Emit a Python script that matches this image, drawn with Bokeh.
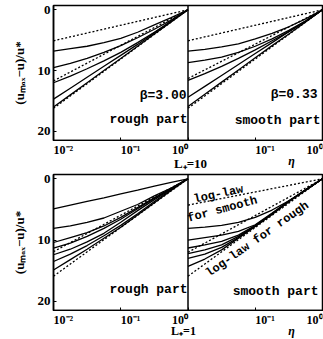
from bokeh.plotting import figure
from bokeh.models import Range1d, LogScale, FixedTicker, Span, Label
from bokeh.layouts import column
from bokeh.embed import file_html
from bokeh.resources import INLINE

# ---------------- data ----------------
# abscissa: distance from the wall (rough part: y/h, smooth part: eta)
x_pts = [0.01, 0.0178, 0.0316, 0.0562, 0.1, 0.178, 0.316, 0.562, 1.0]
x_ends = [0.01, 1.0]

# tick marks on the shared bottom axis (left half: rough part, right half: eta)
x_ticks = [0.01, 0.1, 1, 10, 100]
rough_tick_vals = [0.01, 0.1, 1.0]
rough_tick_text = ["10⁻²", "10⁻¹", "10⁰"]
eta_tick_vals = [0.1, 1.0]
eta_tick_text = ["10⁻¹", "10⁰"]
y_ticks = [0, 10, 20]

# top row, L+ = 10
top_rough = [  # beta = 3.00, rough part
    [6.8, 6.4, 6.0, 5.4, 4.7, 3.7, 2.5, 1.3, 0.0],
    [9.5, 8.8, 8.0, 7.0, 5.9, 4.6, 3.2, 1.7, 0.0],
    [12.0, 10.9, 9.7, 8.4, 7.0, 5.4, 3.7, 1.9, 0.0],
    [14.7, 12.9, 11.1, 9.3, 7.5, 5.7, 3.8, 1.9, 0.0],
    [16.0, 14.0, 12.0, 10.0, 8.0, 6.0, 4.0, 2.0, 0.0],
]
top_rough_loglaw = [[5.1, 0.0], [11.7, 0.0], [16.2, 0.0]]

top_smooth = [  # beta = 0.33, smooth part
    [6.8, 6.5, 6.1, 5.6, 4.8, 3.9, 2.8, 1.5, 0.0],
    [8.7, 8.3, 7.8, 7.0, 6.0, 4.8, 3.4, 1.8, 0.0],
    [11.6, 10.5, 9.3, 8.0, 6.6, 5.1, 3.6, 1.9, 0.0],
    [14.4, 12.6, 10.8, 9.0, 7.2, 5.4, 3.6, 1.9, 0.0],
    [15.9, 13.9, 11.9, 9.9, 7.9, 5.9, 4.0, 2.0, 0.0],
]
top_smooth_loglaw = [[5.1, 0.0], [11.3, 0.0], [16.2, 0.0]]

# bottom row, L+ = 1
bot_rough = [
    [4.9, 4.3, 3.7, 3.1, 2.45, 1.85, 1.2, 0.6, 0.0],
    [8.1, 7.7, 7.1, 6.4, 5.3, 4.2, 2.8, 1.5, 0.0],
    [10.4, 9.6, 8.8, 7.7, 6.3, 4.7, 3.1, 1.6, 0.0],
    [11.3, 10.5, 9.4, 8.1, 6.6, 4.9, 3.2, 1.6, 0.0],
    [12.4, 11.5, 10.3, 8.9, 7.1, 5.2, 3.4, 1.7, 0.0],
    [13.5, 12.3, 10.9, 9.3, 7.6, 5.7, 3.7, 1.8, 0.0],
    [14.9, 13.2, 11.5, 9.7, 7.9, 5.9, 3.9, 1.9, 0.0],
]
bot_rough_loglaw = [[11.9, 0.0], [15.9, 0.0]]

bot_smooth = [
    [8.1, 7.9, 7.6, 7.1, 6.3, 5.1, 3.6, 1.9, 0.0],
    [10.0, 9.6, 9.2, 8.6, 7.5, 5.6, 3.6, 1.8, 0.0],
    [11.3, 10.8, 10.2, 9.2, 7.6, 5.7, 3.7, 1.8, 0.0],
    [12.2, 11.6, 10.8, 9.4, 7.7, 5.8, 3.7, 1.8, 0.0],
    [13.0, 12.3, 11.2, 9.6, 7.7, 5.8, 3.7, 1.8, 0.0],
    [14.3, 13.1, 11.6, 9.7, 7.8, 5.8, 3.7, 1.8, 0.0],
]
bot_smooth_loglaw = [[4.3, 0.0], [12.0, 0.0], [15.9, 0.0]]

# ---------------- styling helpers ----------------
MONO = "Liberation Mono"
SERIF = "Liberation Serif"

X_RANGE = Range1d(0.01, 100)
ETA_RANGE = Range1d(1e-4, 1)


def add_label(p, text, x, y, align="center", baseline="middle", size="13px",
              font=MONO, style="bold", angle=0, x_units="screen", y_units="screen",
              range_name="default"):
    p.add_layout(Label(x=x, y=y, x_units=x_units, y_units=y_units, text=text,
                       x_range_name=range_name,
                       text_align=align, text_baseline=baseline,
                       text_font_size=size, text_font=font, text_font_style=style,
                       text_color="black", angle=angle, angle_units="deg"))


def build_row(height, b_top, b_bottom, rough, rough_ll, smooth, smooth_ll):
    p = figure(width=323, height=height, x_axis_type="log",
               x_range=X_RANGE, y_range=Range1d(21.5, -0.7),
               output_backend="svg", toolbar_location=None,
               min_border_left=53, min_border_right=1,
               min_border_top=b_top, min_border_bottom=b_bottom)
    p.extra_x_ranges = {"eta": ETA_RANGE}
    p.extra_x_scales = {"eta": LogScale()}
    p.background_fill_color = "white"
    p.border_fill_color = "white"
    p.outline_line_color = "black"
    p.outline_line_width = 1.5
    p.xgrid.visible = False
    p.ygrid.visible = False

    for ax in (p.xaxis[0], p.yaxis[0]):
        ax.axis_line_color = "black"
        ax.axis_line_width = 1.5
        ax.major_tick_in = 3
        ax.major_tick_out = 0
        ax.minor_tick_line_color = None
        ax.major_tick_line_color = "black"
        ax.major_label_text_font = SERIF
        ax.major_label_text_font_style = "bold"
        ax.major_label_text_color = "black"

    # bottom axis keeps its tick marks; its labels are written in the strip below
    p.xaxis.ticker = FixedTicker(ticks=x_ticks)
    p.xaxis.major_label_overrides = {t: "" for t in x_ticks}
    p.xaxis.major_label_text_font_size = "0px"
    p.xaxis.major_label_standoff = 0

    p.yaxis.ticker = FixedTicker(ticks=y_ticks)
    p.yaxis.major_label_text_font_size = "13px"
    p.yaxis.major_label_standoff = 3
    p.yaxis.axis_label = "(uₘₐₓ−u)/u*"
    p.yaxis.axis_label_text_font = SERIF
    p.yaxis.axis_label_text_font_style = "bold"
    p.yaxis.axis_label_text_font_size = "13px"
    p.yaxis.axis_label_text_color = "black"
    p.yaxis.axis_label_standoff = 8

    # rough part (left panel)
    for prof in rough:
        p.line(x_pts, prof, line_color="black", line_width=1.3)
    for ll in rough_ll:
        p.line(x_ends, ll, line_color="black", line_width=1.3, line_dash="2 2")
    # smooth part (right panel), plotted against eta
    for prof in smooth:
        p.line(x_pts, prof, line_color="black", line_width=1.3, x_range_name="eta")
    for ll in smooth_ll:
        p.line(x_ends, ll, line_color="black", line_width=1.3, line_dash="2 2",
               x_range_name="eta")

    p.add_layout(Span(location=1, dimension="height", line_color="black", line_width=1.5))
    return p


def build_strip(height, tick_y, l_text, l_x, l_y, eta_x, eta_y, l_size):
    s = figure(width=323, height=height, x_axis_type="log",
               x_range=X_RANGE, y_range=Range1d(0, height),
               x_axis_location=None, y_axis_location=None,
               output_backend="svg", toolbar_location=None,
               min_border_left=53, min_border_right=1,
               min_border_top=0, min_border_bottom=0)
    s.extra_x_ranges = {"eta": ETA_RANGE}
    s.extra_x_scales = {"eta": LogScale()}
    s.outline_line_color = None
    s.background_fill_color = "white"
    s.border_fill_color = "white"
    s.xgrid.visible = False
    s.ygrid.visible = False
    for i, (v, t) in enumerate(zip(rough_tick_vals, rough_tick_text)):
        add_label(s, t, v, tick_y, align="right" if i == len(rough_tick_vals) - 1 else "left",
                  baseline="top", size="12px", font=SERIF, x_units="data", y_units="data")
    for i, (v, t) in enumerate(zip(eta_tick_vals, eta_tick_text)):
        add_label(s, t, v, tick_y, align="right" if i == len(eta_tick_vals) - 1 else "left",
                  baseline="top", size="12px", font=SERIF, x_units="data", y_units="data",
                  range_name="eta")
    add_label(s, l_text, l_x, l_y, font=SERIF, size=l_size, y_units="data")
    add_label(s, "η", eta_x, eta_y, font=SERIF, style="bold italic", size="12px",
              y_units="data")
    return s


top = build_row(141, 5, 1, top_rough, top_rough_loglaw, top_smooth, top_smooth_loglaw)
add_label(top, "β=3.00", 133, 45, align="right")
add_label(top, "rough part", 134, 21, align="right")
add_label(top, "β=0.33", 264, 46, align="right")
add_label(top, "smooth part", 267, 20, align="right")

strip_top = build_strip(31, 30, "L₊=10", 137, 9, 238, 12, "13px")

bot = build_row(139, 2, 1, bot_rough, bot_rough_loglaw, bot_smooth, bot_smooth_loglaw)
add_label(bot, "rough part", 134, 21, align="right")
add_label(bot, "smooth part", 265, 19, align="right")
add_label(bot, "log-law", 165, 116, size="12px", angle=12)
add_label(bot, "for smooth", 169, 101, size="12px", angle=15)
add_label(bot, "log-law for rough", 204, 71, size="12px", angle=35)

strip_bot = build_strip(28, 27, "L₊=1", 130, 9, 238, 9, "12px")

layout = column(top, strip_top, bot, strip_bot, spacing=0)
open("out.html", "w").write(file_html(layout, INLINE))
